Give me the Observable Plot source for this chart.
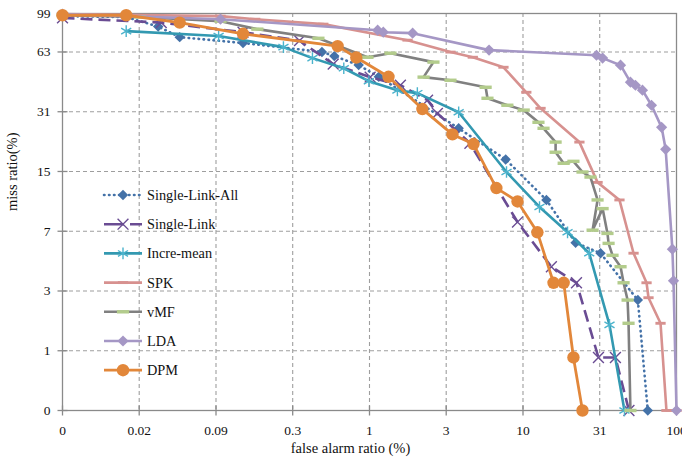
<!DOCTYPE html>
<html><head><meta charset="utf-8">
<script src="https://cdn.jsdelivr.net/npm/d3@7"></script>
<script src="https://cdn.jsdelivr.net/npm/@observablehq/plot@0.6"></script>
<style>body{margin:0;background:#fff}#chart{width:682px;height:464px}</style>
</head><body><div id="chart"></div>
<script>
// ---- data (false alarm % , miss %) ----
const seriesNames = ["Single-Link-All","Single-Link","Incre-mean","SPK","vMF","LDA","DPM"];

const singleLinkAllFA   = [0, 0.016, 0.032, 0.048, 0.14, 0.48, 0.58, 0.84, 1.14, 3.8, 7.7, 14.2, 22, 32, 56, 65];
const singleLinkAllMiss = [96, 95, 85, 75, 70, 63, 60, 54, 47, 25.4, 17.4, 10.5, 6.0, 5.2, 2.6, 0];

const singleLinkFA   = [0, 0.034, 0.14, 0.34, 0.57, 1.0, 1.58, 2.38, 2.76, 4.5, 9.2, 15.3, 22.3, 31, 40, 49];
const singleLinkMiss = [94, 89, 79.5, 72, 54.6, 46.8, 42.5, 35.6, 30.4, 21.2, 7.9, 4.3, 3.4, 0.85, 0.85, 0];

const increMeanFA   = [0.016, 0.094, 0.265, 0.415, 0.67, 0.98, 1.51, 2.04, 3.8, 7.8, 12.8, 19.5, 27, 36.6, 45.8];
const increMeanMiss = [80.5, 76, 66.7, 58.6, 52, 44.6, 40, 38.7, 30.8, 14.9, 9.6, 6.9, 5.2, 1.7, 0];

const spkFA   = [0, 0.097, 0.17, 0.49, 1.76, 3.36, 4.7, 7.45, 10.5, 13, 23.3, 30.6, 42.5, 52.5, 63.8, 65.7, 78.7, 86, 100];
const spkMiss = [98.3, 96, 92.6, 87.4, 72.4, 62.9, 59.2, 52.6, 39.1, 32.3, 21.5, 13.1, 10.5, 5.2, 3.4, 2.7, 1.75, 0, 0];

const vmfFA   = [0, 0.022, 0.097, 0.176, 0.455, 0.96, 1.36, 2.6, 2.24, 3.36, 5.7, 5.86, 7.9, 10.1, 12.6, 13.6, 16.3, 16.3, 18.4, 21.3, 24.4, 27.5, 30.6, 28.4, 33, 35.5, 36.1, 38.3, 43.2, 45.2, 48, 48.7, 50.1];
const vmfMiss = [97, 95, 90.5, 82.4, 74, 59.2, 62.1, 55.9, 46.8, 45.1, 41.5, 36.4, 33.5, 31.6, 27.3, 25.4, 21.5, 19, 16.6, 17, 14.9, 14, 10.5, 7.1, 9.4, 6.8, 5.95, 5.05, 4.3, 3.4, 2.6, 1.75, 0];

const ldaFA   = [0, 0.097, 1.12, 1.22, 1.9, 6.0, 30.1, 33, 43.2, 50.1, 54, 60, 68.7, 80, 85, 94, 95.6, 100];
const ldaMiss = [98.3, 92.6, 81.4, 79.5, 78.6, 64.4, 60.6, 58.6, 53.9, 44.1, 42.5, 40.1, 33.5, 25.7, 19.7, 5.5, 3.5, 0];

const dpmFA   = [0, 0.016, 0.048, 0.14, 0.61, 0.81, 1.32, 2.2, 3.46, 4.75, 6.7, 9.2, 12.4, 15.8, 18.4, 21.3, 24.4];
const dpmMiss = [97, 97, 89, 78, 67.5, 59, 47, 32, 23.6, 21, 12.2, 10.3, 6.9, 3.4, 3.4, 0.85, 0];

const xTickValues = [0, 0.0216, 0.09, 0.306, 0.99, 3.15, 9.99, 31.6, 100];
const xTickLabels = ["0","0.02","0.09","0.3","1","3","10","31","100"];
const yTickValues = [0, 1, 3, 7, 15, 31, 63, 99];
const yTickLabels = ["0","1","3","7","15","31","63","99"];

// ---- axis transforms (DET-style) ----
const fx = v => Math.log10(1 + 100 * v);
const fy = v => Math.log2(1 + v);

const raw = [
  [singleLinkAllFA, singleLinkAllMiss],
  [singleLinkFA, singleLinkMiss],
  [increMeanFA, increMeanMiss],
  [spkFA, spkMiss],
  [vmfFA, vmfMiss],
  [ldaFA, ldaMiss],
  [dpmFA, dpmMiss]
];
const table = seriesNames.map((name, k) =>
  raw[k][0].map((fa, i) => ({series: name, x: fx(fa), y: fy(raw[k][1][i])})));

// ---- custom symbols ----
const dashSym = {draw(ctx, size){ const r = Math.sqrt(size/Math.PI); ctx.rect(-r*1.6, -r*0.45, r*3.2, r*0.9); }};
const diamondSym = {draw(ctx, size){ const r = Math.sqrt(size/Math.PI); ctx.moveTo(0,-r); ctx.lineTo(r,0); ctx.lineTo(0,r); ctx.lineTo(-r,0); ctx.closePath(); }};
const vTick = {draw(ctx, size){ const r = Math.sqrt(size/Math.PI); ctx.moveTo(0,-r); ctx.lineTo(0,r); }};
const hTick = {draw(ctx, size){ const r = Math.sqrt(size/Math.PI); ctx.moveTo(-r,0); ctx.lineTo(r,0); }};

const styles = {
  "Single-Link-All": {stroke:"#4472A8", width:2.6, dash:"0.5,4.5", cap:"round", sym:diamondSym, r:5.2, fill:"#4472A8", mstroke:"none"},
  "Single-Link":     {stroke:"#6A4C93", width:2.6, dash:"12,6", cap:"butt", sym:"times", r:5, fill:"none", mstroke:"#6A4C93"},
  "Incre-mean":      {stroke:"#3399B1", width:2.6, dash:null, cap:"butt", sym:"asterisk", r:5.5, fill:"none", mstroke:"#4BB3CC"},
  "SPK":             {stroke:"#D7918F", width:2.6, dash:null, cap:"butt", sym:dashSym, r:3.2, fill:"#D7918F", mstroke:"none"},
  "vMF":             {stroke:"#808080", width:2.6, dash:null, cap:"butt", sym:dashSym, r:3.8, fill:"#B3CC8C", mstroke:"none"},
  "LDA":             {stroke:"#A597C5", width:2.6, dash:null, cap:"butt", sym:diamondSym, r:5.6, fill:"#A597C5", mstroke:"none"},
  "DPM":             {stroke:"#E2873A", width:2.8, dash:null, cap:"butt", sym:"circle", r:6.2, fill:"#E2873A", mstroke:"none"}
};

const xT = xTickValues.map(fx), yT = yTickValues.map(fy);
const xLab = new Map(xT.map((t,i)=>[t, xTickLabels[i]]));
const yLab = new Map(yT.map((t,i)=>[t, yTickLabels[i]]));
const gridColor = "#9e9e9e", axisColor = "#8a8a8a";

const seriesMarks = [];
seriesNames.forEach((name, k) => {
  const s = styles[name];
  seriesMarks.push(Plot.line(table[k], {x:"x", y:"y", stroke:s.stroke, strokeWidth:s.width,
    strokeDasharray: s.dash || undefined, strokeLinecap: s.cap, strokeLinejoin:"round"}));
  seriesMarks.push(Plot.dot(table[k], {x:"x", y:"y", symbol:s.sym, r:s.r, fill:s.fill,
    stroke:s.mstroke, strokeWidth:1.4}));
});

const plot = Plot.plot({
  width: 682, height: 464,
  marginLeft: 62, marginRight: 6, marginTop: 13, marginBottom: 54,
  style: {fontFamily: "'Liberation Serif', 'Times New Roman', serif", fontSize: "13px", background: "#fff", overflow: "visible"},
  x: {domain: [0, fx(100)], axis: null},
  y: {domain: [0, fy(99)], axis: null},
  marks: [
    Plot.ruleX(xT.slice(1, -1), {stroke: gridColor, strokeDasharray: "4,3", strokeWidth: 1.1}),
    Plot.ruleY(yT.slice(1, -1), {stroke: gridColor, strokeDasharray: "4,3", strokeWidth: 1.1}),
    Plot.frame({stroke: axisColor, strokeWidth: 1.3}),
    Plot.dot(xT, {x: d => d, y: 0, symbol: vTick, r: 5, stroke: axisColor, fill: "none", strokeWidth: 1.3}),
    Plot.dot(yT, {x: 0, y: d => d, symbol: hTick, r: 5, stroke: axisColor, fill: "none", strokeWidth: 1.3}),
    Plot.axisX(xT, {tickSize: 0, tickPadding: 15, tickFormat: d => xLab.get(d), label: null, fontSize: 13.5, fill: "#111"}),
    Plot.axisY(yT, {tickSize: 0, tickPadding: 12, tickFormat: d => yLab.get(d), label: null, fontSize: 13.5, fill: "#111"}),
    Plot.text(["false alarm ratio (%)"], {frameAnchor: "bottom", text: d => d, dx: -19, dy: 42, fontSize: 14.5, fill: "#111"}),
    Plot.text(["miss ratio(%)"], {frameAnchor: "left", text: d => d, dx: -50, dy: -1, rotate: -90, fontSize: 14.5, fill: "#111"}),
    ...seriesMarks
  ]
});
document.getElementById("chart").appendChild(plot);

// ---- legend (inside plot, left) ----
const svg = d3.select(plot);
const lg = svg.append("g")
  .attr("font-family", "'Liberation Serif', 'Times New Roman', serif")
  .attr("font-size", 14.3).attr("text-anchor", "start");
const symMap = {times: d3.symbolTimes, asterisk: d3.symbolAsterisk, circle: d3.symbolCircle};
seriesNames.forEach((name, i) => {
  const s = styles[name];
  const y = 195 + i * 29.2;
  const g = lg.append("g").attr("transform", `translate(0,${y})`);
  g.append("line").attr("x1", 104).attr("x2", 142).attr("y1", 0).attr("y2", 0)
    .attr("stroke", s.stroke).attr("stroke-width", s.width)
    .attr("stroke-dasharray", name === "Single-Link" ? "20,6,12" : s.dash)
    .attr("stroke-linecap", s.cap).attr("fill", "none");
  const type = typeof s.sym === "string" ? symMap[s.sym] : s.sym;
  const sz = Math.PI * s.r * s.r;
  g.append("path").attr("transform", "translate(123,0)")
    .attr("d", d3.symbol(type, sz)())
    .attr("fill", s.fill).attr("stroke", s.mstroke).attr("stroke-width", 1.4);
  g.append("text").attr("x", 147).attr("y", 0).attr("dy", "0.35em")
    .attr("text-anchor", "start").attr("fill", "#111").text(name);
});
</script></body></html>
